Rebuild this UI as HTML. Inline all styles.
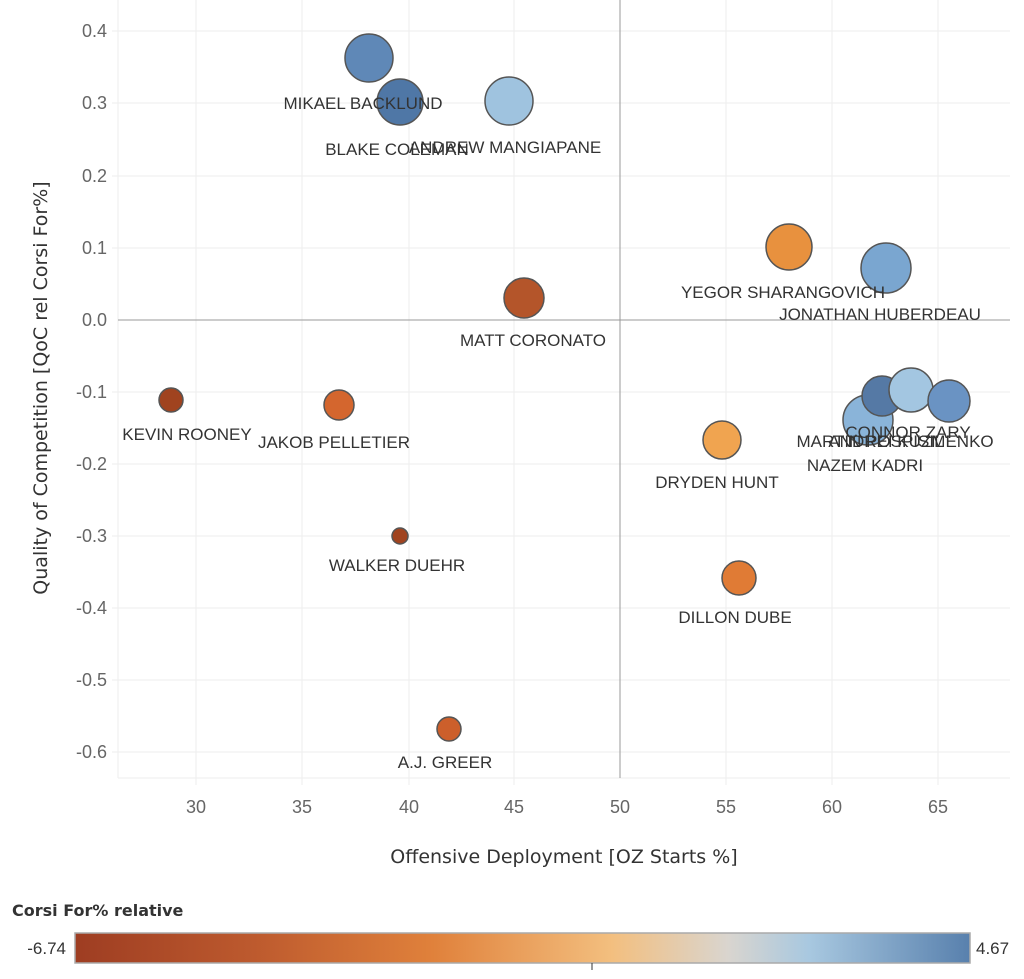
<!DOCTYPE html>
<html><head><style>
body{margin:0;background:#fff;width:1024px;height:974px;overflow:hidden}
text{font-family:"Liberation Sans",sans-serif}
.d{font-family:"DejaVu Sans",sans-serif}
</style></head><body>
<svg width="1024" height="974" xmlns="http://www.w3.org/2000/svg">
<defs>
<linearGradient id="g" x1="0" x2="1">
<stop offset="0" stop-color="#9e3d22"/>
<stop offset="0.2" stop-color="#bd5a2e"/>
<stop offset="0.4" stop-color="#e0813b"/>
<stop offset="0.6" stop-color="#f3bf7f"/>
<stop offset="0.73" stop-color="#d9d5cf"/>
<stop offset="0.82" stop-color="#a8c8e0"/>
<stop offset="1" stop-color="#5880ad"/>
</linearGradient>
</defs>
<g stroke="#eeeeee" stroke-width="1">
<line x1="196" y1="0" x2="196" y2="785"/><line x1="302" y1="0" x2="302" y2="785"/>
<line x1="409" y1="0" x2="409" y2="785"/><line x1="514" y1="0" x2="514" y2="785"/>
<line x1="726" y1="0" x2="726" y2="785"/><line x1="832" y1="0" x2="832" y2="785"/>
<line x1="938" y1="0" x2="938" y2="785"/>
<line x1="112" y1="31" x2="1010" y2="31"/><line x1="112" y1="103" x2="1010" y2="103"/>
<line x1="112" y1="176" x2="1010" y2="176"/><line x1="112" y1="248" x2="1010" y2="248"/>
<line x1="112" y1="392" x2="1010" y2="392"/><line x1="112" y1="464" x2="1010" y2="464"/>
<line x1="112" y1="536" x2="1010" y2="536"/><line x1="112" y1="608" x2="1010" y2="608"/>
<line x1="112" y1="680" x2="1010" y2="680"/><line x1="112" y1="752" x2="1010" y2="752"/>
<line x1="118" y1="778" x2="1010" y2="778"/><line x1="118" y1="0" x2="118" y2="778"/>
</g>
<line x1="620" y1="0" x2="620" y2="778" stroke="#999"/>
<line x1="118" y1="320" x2="1010" y2="320" stroke="#999"/>
<g font-size="18" fill="#666" text-anchor="end">
<text x="107" y="37">0.4</text><text x="107" y="109">0.3</text><text x="107" y="182">0.2</text>
<text x="107" y="254">0.1</text><text x="107" y="326">0.0</text><text x="107" y="398">-0.1</text>
<text x="107" y="470">-0.2</text><text x="107" y="542">-0.3</text><text x="107" y="614">-0.4</text>
<text x="107" y="686">-0.5</text><text x="107" y="758">-0.6</text>
</g>
<g font-size="18" fill="#666" text-anchor="middle">
<text x="196" y="813">30</text><text x="302" y="813">35</text><text x="409" y="813">40</text>
<text x="514" y="813">45</text><text x="620" y="813">50</text><text x="726" y="813">55</text>
<text x="832" y="813">60</text><text x="938" y="813">65</text>
</g>
<text class="d" x="564" y="863" font-size="19" fill="#333" text-anchor="middle">Offensive Deployment [OZ Starts %]</text>
<text class="d" transform="translate(47,388) rotate(-90)" font-size="19" fill="#333" text-anchor="middle">Quality of Competition [QoC rel Corsi For%]</text>
<g stroke="#555" stroke-width="1.5">
<circle cx="369" cy="58" r="24" fill="#5f88b7"/>
<circle cx="400" cy="102" r="23" fill="#4f77a6"/>
<circle cx="509" cy="101" r="24" fill="#9fc3df"/>
<circle cx="789" cy="247" r="23" fill="#e8913e"/>
<circle cx="886" cy="268" r="25" fill="#7aa6d0"/>
<circle cx="524" cy="298" r="20" fill="#b4552a"/>
<circle cx="171" cy="400" r="12" fill="#a0431f"/>
<circle cx="339" cy="405" r="15" fill="#d4662e"/>
<circle cx="400" cy="536" r="8" fill="#a0431f"/>
<circle cx="722" cy="440" r="19" fill="#f0a450"/>
<circle cx="739" cy="578" r="17" fill="#e07b35"/>
<circle cx="449" cy="729" r="12" fill="#cc5f2b"/>
<circle cx="868" cy="420" r="25" fill="#8ab4d9"/>
<circle cx="882" cy="396" r="20" fill="#5579a5"/>
<circle cx="911" cy="390" r="22" fill="#a3c6e1"/>
<circle cx="949" cy="401" r="21" fill="#6a93c3"/>
</g>
<g class="d" font-size="17" fill="#333" text-anchor="middle">
<text x="363" y="109">MIKAEL BACKLUND</text>
<text x="397" y="155">BLAKE COLEMAN</text>
<text x="505" y="153">ANDREW MANGIAPANE</text>
<text x="783" y="298">YEGOR SHARANGOVICH</text>
<text x="880" y="320">JONATHAN HUBERDEAU</text>
<text x="533" y="346">MATT CORONATO</text>
<text x="187" y="440">KEVIN ROONEY</text>
<text x="334" y="448">JAKOB PELLETIER</text>
<text x="397" y="571">WALKER DUEHR</text>
<text x="717" y="488">DRYDEN HUNT</text>
<text x="735" y="623">DILLON DUBE</text>
<text x="445" y="768">A.J. GREER</text>
<text x="908" y="438">CONNOR ZARY</text>
<text x="870" y="447">MARTIN POSPISIL</text>
<text x="911" y="447">ANDREI KUZMENKO</text>
<text x="865" y="471">NAZEM KADRI</text>
</g>
<text class="d" x="12" y="916" font-size="16" font-weight="bold" fill="#333">Corsi For% relative</text>
<rect x="75" y="933" width="895" height="30" fill="url(#g)" stroke="#aaa" stroke-width="1.5"/>
<line x1="592" y1="963" x2="592" y2="970" stroke="#333"/>
<text x="66" y="954" font-size="17" fill="#333" text-anchor="end">-6.74</text>
<text x="976" y="954" font-size="17" fill="#333">4.67</text>
</svg>
</body></html>
